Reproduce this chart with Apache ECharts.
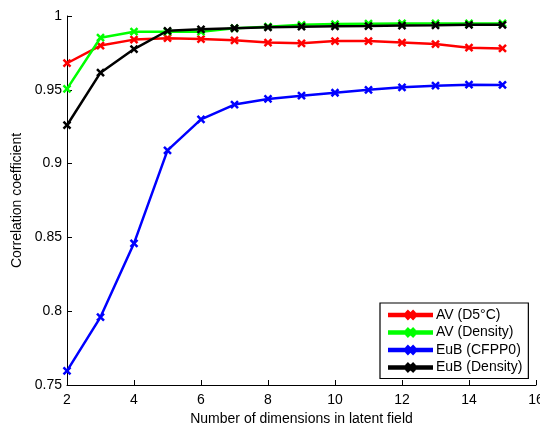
<!DOCTYPE html>
<html>
<head>
<meta charset="utf-8">
<script src="https://cdn.jsdelivr.net/npm/echarts@6/dist/echarts.min.js"></script>
<style>
  html, body { margin: 0; padding: 0; background: #fff; }
  #chart { width: 540px; height: 426px; }
</style>
</head>
<body>
<div id="chart"></div>
<script>
// Number of latent dimensions
const dims = [2, 3, 4, 5, 6, 7, 8, 9, 10, 11, 12, 13, 14, 15];

// Correlation coefficient per configuration
const avD5C = [0.968, 0.980, 0.984, 0.985, 0.9844, 0.9835, 0.982, 0.9815, 0.983, 0.983, 0.982, 0.981, 0.9785, 0.978];
const avDensity = [0.9506, 0.9853, 0.9894, 0.9894, 0.9894, 0.9917, 0.9928, 0.9940, 0.9945, 0.9948, 0.9950, 0.9950, 0.9950, 0.9950];
const eubCFPP0 = [0.7596, 0.796, 0.846, 0.909, 0.930, 0.940, 0.9438, 0.946, 0.948, 0.950, 0.9517, 0.9528, 0.9535, 0.9533];
const eubDensity = [0.926, 0.9616, 0.9776, 0.990, 0.991, 0.9917, 0.9923, 0.9928, 0.993, 0.9932, 0.9935, 0.9937, 0.994, 0.994];

const seriesNames = ['AV (D5°C)', 'AV (Density)', 'EuB (CFPP0)', 'EuB (Density)'];
const seriesColors = ['#ff0000', '#00ff00', '#0000ff', '#000000'];
const seriesValues = [avD5C, avDensity, eubCFPP0, eubDensity];

const xTicks = { min: 2, max: 16, step: 2 };
const yTicks = { min: 0.75, max: 1, step: 0.05 };

// Cross marker used on every data point
const crossSymbol = 'path://M0,0 L10,10 M10,0 L0,10';
// Legend key: a short line with a small cross in its middle
const legendIcon = 'path://M0,2.8 L43,2.8 L43,5.2 L0,5.2 Z ' +
  'M18.9,0 L25.5,6.6 L24.1,8 L17.5,1.4 Z ' +
  'M25.5,1.4 L18.9,8 L17.5,6.6 L24.1,0 Z';
const font = 'Liberation Sans, Arial, Helvetica, sans-serif';

const chart = echarts.init(document.getElementById('chart'), null, { renderer: 'canvas' });

chart.setOption({
  animation: false,
  backgroundColor: '#ffffff',
  textStyle: { fontFamily: font },
  grid: { left: 67, right: 4, top: 16, bottom: 41, containLabel: false, outerBoundsMode: 'none' },
  xAxis: {
    type: 'value',
    min: xTicks.min, max: xTicks.max, interval: xTicks.step,
    name: 'Number of dimensions in latent field',
    nameLocation: 'middle', nameGap: 24,
    nameTextStyle: { color: '#000', fontSize: 14, fontFamily: font },
    axisLine: { lineStyle: { color: '#000', width: 1 } },
    axisTick: { inside: true, length: 5, lineStyle: { color: '#000' } },
    axisLabel: { color: '#000', fontSize: 14, fontFamily: font, margin: 8 },
    splitLine: { show: false }
  },
  yAxis: {
    type: 'value',
    min: yTicks.min, max: yTicks.max, interval: yTicks.step,
    name: 'Correlation coefficient',
    nameLocation: 'middle', nameGap: 41,
    nameTextStyle: { color: '#000', fontSize: 14, fontFamily: font },
    axisLine: { show: true, lineStyle: { color: '#000', width: 1 } },
    axisTick: { show: true, inside: true, length: 5, lineStyle: { color: '#000' } },
    axisLabel: { color: '#000', fontSize: 14, fontFamily: font, margin: 5 },
    splitLine: { show: false }
  },
  legend: {
    orient: 'vertical',
    left: 380, top: 303,
    padding: [5, 6, 4, 8],
    itemGap: 3.5,
    itemWidth: 43, itemHeight: 8,
    icon: legendIcon,
    borderColor: '#000', borderWidth: 1.2,
    backgroundColor: '#fff',
    textStyle: { color: '#000', fontSize: 14, fontFamily: font, padding: [0, 0, 0, -1] },
    data: seriesNames
  },
  series: seriesNames.map((name, i) => ({
    name,
    type: 'line',
    data: dims.map((d, k) => [d, seriesValues[i][k]]),
    symbol: crossSymbol,
    symbolSize: 7,
    showSymbol: true,
    color: seriesColors[i],
    lineStyle: { color: seriesColors[i], width: 2.5 },
    itemStyle: { color: seriesColors[i], borderColor: seriesColors[i], borderWidth: 2.5 },
    z: [2, 3, 4, 5][i]
  }))
});
</script>
</body>
</html>
